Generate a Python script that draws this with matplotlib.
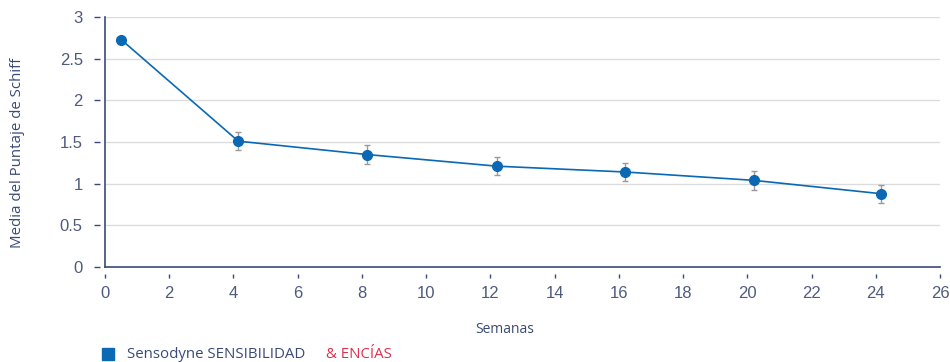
import matplotlib
matplotlib.use("Agg")
import matplotlib.pyplot as plt
from matplotlib.transforms import ScaledTranslation, blended_transform_factory

# Schiff sensitivity score over time
weeks = [0.5, 4.15, 8.15, 12.2, 16.2, 20.2, 24.15]
mean_score = [2.73, 1.51, 1.35, 1.21, 1.14, 1.04, 0.88]
err = [0.0, 0.11, 0.11, 0.11, 0.11, 0.11, 0.11]
x_ticks = list(range(0, 27, 2))
y_ticks = [0, 0.5, 1, 1.5, 2, 2.5, 3]
y_labels = ["0", "0.5", "1", "1.5", "2", "2.5", "3"]

navy = "#3a4a78"
tick_text = "#4f5b7d"
blue = "#0a68b4"
red = "#e0304e"

DPI = 100
fig = plt.figure(figsize=(9.5, 3.62), dpi=DPI)
ax = fig.add_axes([105/950, 1 - 267/362, (940 - 105)/950, (267 - 17)/362])
ax.set_xlim(0, 26)
ax.set_ylim(0, 3)

for y in y_ticks[1:]:
    ax.axhline(y, color="#dcdcdc", lw=1.0, zorder=0)

ax.errorbar(weeks, mean_score, yerr=err, fmt="none", ecolor="#9a9a9a",
            elinewidth=1.0, capsize=2.5, capthick=1.0, zorder=2)
ax.plot(weeks, mean_score, color=blue, lw=1.2, marker="o", ms=7,
        mec=blue, mfc=blue, zorder=3)

# axis lines
for s in ("top", "right"):
    ax.spines[s].set_visible(False)
for s in ("left", "bottom"):
    ax.spines[s].set_color(navy)
    ax.spines[s].set_linewidth(1.2)

# short tick marks that sit detached from the axis lines
ax.tick_params(axis="both", length=0)
px = 1.0 / DPI
xt = blended_transform_factory(ax.transData, ax.transAxes) + \
    ScaledTranslation(0, -9 * px, fig.dpi_scale_trans)
ax.plot(x_ticks, [0] * len(x_ticks), ls="none", marker="|", ms=5 * 0.72,
        mew=1.0, color=navy, transform=xt, clip_on=False)
yt = blended_transform_factory(ax.transAxes, ax.transData) + \
    ScaledTranslation(-8 * px, 0, fig.dpi_scale_trans)
ax.plot([0] * len(y_ticks), y_ticks, ls="none", marker="_", ms=6 * 0.72,
        mew=1.0, color=navy, transform=yt, clip_on=False)

ax.set_xticks(x_ticks)
ax.set_xticklabels([str(t) for t in x_ticks], fontsize=12,
                   family="Liberation Sans", color=tick_text)
ax.set_yticks(y_ticks)
ax.set_yticklabels(y_labels, fontsize=12, family="Liberation Sans",
                   color=tick_text)
ax.tick_params(axis="y", pad=16)
ax.tick_params(axis="x", pad=14)

ax.set_xlabel("Semanas", fontsize=10, family="Open Sans", color=navy)
ax.xaxis.set_label_coords(0.479, -55/250)
ax.set_ylabel("Media del Puntaje de Schiff", fontsize=10.8, family="Open Sans",
              color=navy)
ax.yaxis.set_label_coords(-80/835, (267 - 153) / 250)

# legend row
fig.patches.append(plt.Rectangle((102/950, 1 - 360/362), 12/950, 12/362,
                                 transform=fig.transFigure, color=blue))
fig.text(127/950, 1 - 358/362, "Sensodyne SENSIBILIDAD", fontsize=10.8,
         family="Open Sans", color=navy, va="baseline")
fig.text(326/950, 1 - 358/362, "& ENCÍAS", fontsize=10.8,
         family="Open Sans", color=red, va="baseline")

fig.savefig("out.png", dpi=DPI)
